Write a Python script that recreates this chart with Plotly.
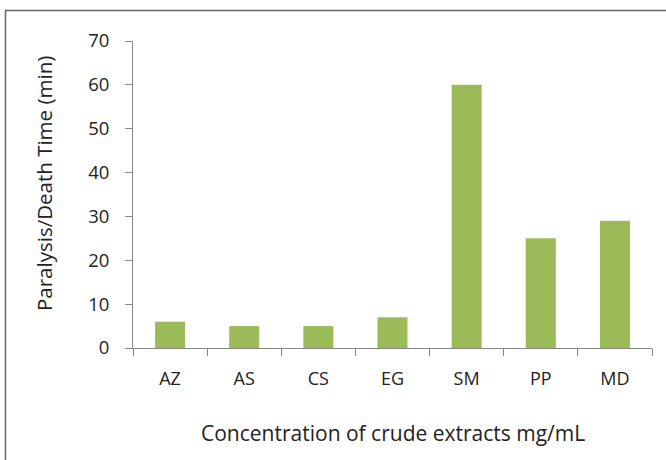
import plotly.graph_objects as go

categories = ["AZ", "AS", "CS", "EG", "SM", "PP", "MD"]
values = [6, 5, 5, 7, 60, 25, 29]
y_ticks = [0, 10, 20, 30, 40, 50, 60, 70]

FONT = "Open Sans"
TXT = "#222222"
AX = "#888888"

fig = go.Figure()
fig.add_trace(go.Bar(x=categories, y=values, marker=dict(color="#9BBB59", line=dict(width=0)),
                     width=0.405))

L, R, T, B = 133, 14, 41, 112
W, H = 666, 460
pw = W - L - R
ph = H - T - B

fig.update_layout(
    width=W, height=H,
    margin=dict(l=L, r=R, t=T, b=B),
    paper_bgcolor="white", plot_bgcolor="white",
    showlegend=False,
    font=dict(family=FONT, size=18, color=TXT),
    xaxis=dict(
        showline=True, linecolor=AX, linewidth=1,
        ticks="outside", ticklen=7, tickcolor=AX, tickson="boundaries",
        showgrid=False, tickfont=dict(size=18, color=TXT),
        ticklabelstandoff=14,
    ),
    yaxis=dict(
        range=[0, 70], tickvals=y_ticks, showline=True, linecolor=AX, linewidth=1,
        ticks="outside", ticklen=7, tickcolor=AX, showgrid=False, zeroline=False,
        tickfont=dict(size=18.5, color=TXT), ticklabelstandoff=12,
    ),
    shapes=[dict(type="rect", xref="paper", yref="paper",
                 x0=(5.5 - L) / pw, x1=1.2, y0=-0.6, y1=(H - B - 10.5) / ph,
                 line=dict(color="#666666", width=1.5), fillcolor="rgba(0,0,0,0)", layer="below")],
    annotations=[
        dict(text="Concentration of crude extracts mg/mL", xref="paper", yref="paper",
             x=(393 - L) / pw, y=(H - B - 433) / ph, showarrow=False,
             font=dict(size=21, color=TXT), xanchor="center", yanchor="middle"),
        dict(text="Paralysis/Death Time (min)", xref="paper", yref="paper",
             x=(44 - L) / pw, y=(H - B - 184) / ph, showarrow=False, textangle=-90,
             font=dict(size=20.5, color=TXT), xanchor="center", yanchor="middle"),
    ],
)

fig.write_html("out.html", config={"displayModeBar": False},
               post_script="document.body.style.margin='0';")
